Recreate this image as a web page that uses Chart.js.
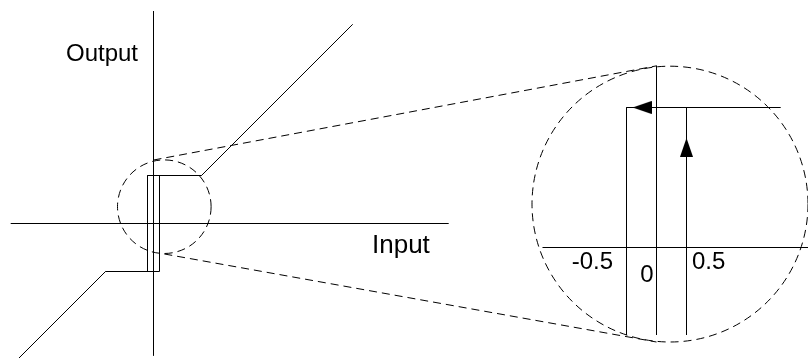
<!DOCTYPE html>
<html>
<head>
<meta charset="utf-8">
<script src="https://cdn.jsdelivr.net/npm/chart.js@4.4.1/dist/chart.umd.min.js"></script>
<style>
  html, body { margin: 0; padding: 0; background: #fff; }
  canvas { display: block; }
</style>
</head>
<body>
<canvas id="monGraphique" width="808" height="358"></canvas>
<script>
// --- DATA : left diagram (Input / Output units) ---
const axeInput = [[-11.9, 0], [24.6, 0]];
const axeOutput = [[0, 17.7], [0, -11]];
const brancheMontee = [[-11.6, -11.6], [-4, -4], [0.5, -4], [0.5, 4], [4, 4], [16.6, 16.6]];
const brancheDescente = [[4, 4], [-0.5, 4], [-0.5, -4], [-4, -4]];
const loupe = [0.9, 1.4, 3.9]; // centre x, centre y, rayon
const titresAxes = ['Output', 'Input'];
const titresPos = [[-1.29, 13.54], [18.21, -2.46]];

// --- DATA : zoomed diagram (same units, magnified) ---
const zoomAxeInput = [[-1.9, 0], [2.6, 0]];
const zoomAxeOutput = [[0, 5.19], [0, -2.5]];
const zoomMontee = [[0.5, -2.5], [0.5, 4]];
const zoomDescente = [[2.07, 4], [-0.5, 4], [-0.5, -2.5]];
const zoomFleches = [[0.5, 2.86], [-0.24, 4]];
const zoomFlechesAngle = [0, -90];
const zoomCercle = [0.225, 1.24, 2.3, 3.94]; // centre x, centre y, rayon x, rayon y
const zoomTicks = ['-0.5', '0', '0.5'];
const zoomTicksPos = [[-0.725, -0.614], [-0.158, -0.986], [0.592, -0.614]];

// --- DATA : dashed links from the small circle to the zoom ---
const liensDepart = [[0, 5.29], [0.9, -2.54]];
const liensArrivee = [[0, 5.19], [0, -2.7]];

// --- LAYOUT ---
const largeur = 808, hauteur = 358;
const repereGauche = { x0: 153.5, y0: 223.5, px: 12, py: 12 };
const repereZoom = { x0: 656.5, y0: 247.5, px: 60, py: 35 };

function echelleX(r) {
    return { type: 'linear', display: false, min: -r.x0 / r.px, max: (largeur - r.x0) / r.px };
}
function echelleY(r) {
    return { type: 'linear', display: false, max: r.y0 / r.py, min: -(hauteur - r.y0) / r.py };
}

const pts = arr => arr.map(p => ({ x: p[0], y: p[1] }));

function trait(data, xId, yId) {
    return {
        data: pts(data),
        xAxisID: xId,
        yAxisID: yId,
        showLine: true,
        borderColor: '#000',
        borderWidth: 1,
        pointRadius: 0,
        tension: 0,
        fill: false
    };
}

// arrow head (pointing up) used as point style
const fleche = document.createElement('canvas');
fleche.width = 13;
fleche.height = 19;
const fctx = fleche.getContext('2d');
fctx.fillStyle = '#000';
fctx.beginPath();
fctx.moveTo(6.5, 0);
fctx.lineTo(13, 19);
fctx.lineTo(0, 19);
fctx.closePath();
fctx.fill();

// dashed circles, links and texts
const decor = {
    id: 'decor',
    afterDatasetsDraw(chart) {
        const { ctx, scales } = chart;
        const xL = scales.xL, yL = scales.yL, xR = scales.xR, yR = scales.yR;
        ctx.save();
        ctx.strokeStyle = '#000';
        ctx.lineWidth = 1;
        ctx.setLineDash([8, 5]);

        // small circle
        let cx = xL.getPixelForValue(loupe[0]);
        let cy = yL.getPixelForValue(loupe[1]);
        let rx = xL.getPixelForValue(loupe[0] + loupe[2]) - cx;
        ctx.beginPath();
        ctx.ellipse(cx, cy, rx, rx, 0, 0, Math.PI * 2);
        ctx.stroke();

        // big circle
        cx = xR.getPixelForValue(zoomCercle[0]);
        cy = yR.getPixelForValue(zoomCercle[1]);
        rx = xR.getPixelForValue(zoomCercle[0] + zoomCercle[2]) - cx;
        const ry = cy - yR.getPixelForValue(zoomCercle[1] + zoomCercle[3]);
        ctx.beginPath();
        ctx.ellipse(cx, cy, rx, ry, 0, 0, Math.PI * 2);
        ctx.stroke();

        // links
        liensDepart.forEach((d, i) => {
            const a = liensArrivee[i];
            ctx.beginPath();
            ctx.moveTo(xL.getPixelForValue(d[0]), yL.getPixelForValue(d[1]));
            ctx.lineTo(xR.getPixelForValue(a[0]), yR.getPixelForValue(a[1]));
            ctx.stroke();
        });
        ctx.setLineDash([]);

        // texts
        ctx.fillStyle = '#000';
        ctx.textBaseline = 'alphabetic';
        const tailles = [24, 26];
        titresAxes.forEach((t, i) => {
            ctx.font = tailles[i] + 'px "Liberation Sans", Arial, sans-serif';
            ctx.textAlign = i === 0 ? 'right' : 'left';
            ctx.fillText(t, xL.getPixelForValue(titresPos[i][0]), yL.getPixelForValue(titresPos[i][1]));
        });
        ctx.font = '24px "Liberation Sans", Arial, sans-serif';
        const aligns = ['right', 'center', 'left'];
        zoomTicks.forEach((t, i) => {
            ctx.textAlign = aligns[i];
            ctx.fillText(t, xR.getPixelForValue(zoomTicksPos[i][0]), yR.getPixelForValue(zoomTicksPos[i][1]));
        });
        ctx.restore();
    }
};

const ctx = document.getElementById('monGraphique').getContext('2d');
new Chart(ctx, {
    type: 'scatter',
    data: {
        datasets: [
            trait(axeInput, 'xL', 'yL'),
            trait(axeOutput, 'xL', 'yL'),
            trait(brancheMontee, 'xL', 'yL'),
            trait(brancheDescente, 'xL', 'yL'),
            trait(zoomAxeInput, 'xR', 'yR'),
            trait(zoomAxeOutput, 'xR', 'yR'),
            trait(zoomMontee, 'xR', 'yR'),
            trait(zoomDescente, 'xR', 'yR'),
            {
                data: pts(zoomFleches),
                xAxisID: 'xR',
                yAxisID: 'yR',
                showLine: false,
                pointStyle: fleche,
                rotation: zoomFlechesAngle,
                pointRadius: 10
            }
        ]
    },
    options: {
        responsive: false,
        animation: false,
        devicePixelRatio: 1,
        layout: { padding: 0, autoPadding: false },
        events: [],
        scales: {
            xL: echelleX(repereGauche),
            yL: echelleY(repereGauche),
            xR: echelleX(repereZoom),
            yR: echelleY(repereZoom)
        },
        plugins: {
            legend: { display: false },
            tooltip: { enabled: false }
        }
    },
    plugins: [decor]
});
</script>
</body>
</html>
